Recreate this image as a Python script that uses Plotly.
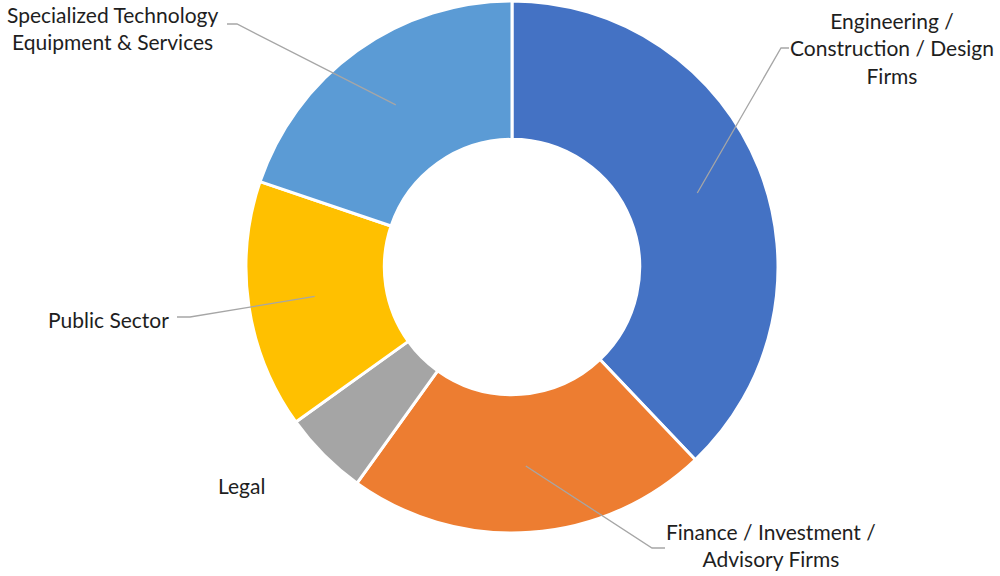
import math
import plotly.graph_objects as go

categories = ["Engineering / Construction / Design Firms",
              "Finance / Investment / Advisory Firms",
              "Legal",
              "Public Sector",
              "Specialized Technology Equipment & Services"]
label_texts = ["Engineering /<br>Construction / Design<br>Firms",
               "Finance / Investment /<br>Advisory Firms",
               "Legal",
               "Public Sector",
               "Specialized Technology<br>Equipment & Services"]
values = [37.9, 22.0, 5.2, 15.1, 19.8]
colors = ["#4472C4", "#ED7D31", "#A5A5A5", "#FFC000", "#5B9BD5"]

W, H = 1000, 576
CX, CY, R = 512, 267, 266
HOLE = 0.48

# label layout (pixel positions of text centres and leader-line ends)
label_pos = [(892, 48), (771, 545), (241, 485), (108, 319), (112, 28)]
leader_end = [(789, 48), (665, 548), None, (177, 317), (227, 24)]
leader_elbow = [(781, 48), (652, 548), None, (190, 317), (237, 24)]

fig = go.Figure()
fig.add_trace(go.Pie(
    labels=categories, values=values, sort=False, direction="clockwise",
    rotation=0, hole=HOLE, textinfo="none", hoverinfo="label+percent",
    marker=dict(colors=colors, line=dict(color="white", width=3)),
    domain=dict(x=[(CX - R) / W, (CX + R) / W],
                y=[1 - (CY + R) / H, 1 - (CY - R) / H]),
    showlegend=False,
))

total = sum(values)
cum = 0.0
for i, v in enumerate(values):
    mid = (cum + v / 2) / total * 2 * math.pi
    cum += v
    if leader_end[i] is None:
        continue
    rr = 0.75 * R
    ax = CX + rr * math.sin(mid)
    ay = CY - rr * math.cos(mid)
    ex, ey = leader_elbow[i]
    tx, ty = leader_end[i]
    fig.add_shape(type="path", xref="x", yref="y", layer="above",
                  path=f"M {ax:.1f},{ay:.1f} L {ex},{ey} L {tx},{ty}",
                  line=dict(color="#A6A6A6", width=1.3))

for (x, y), t in zip(label_pos, label_texts):
    fig.add_annotation(x=x, y=y, xref="x", yref="y", text=t, showarrow=False,
                       align="center", xanchor="center", yanchor="middle",
                       font=dict(family="Lato", size=21, color="#1e1e1e"))

fig.update_layout(
    width=W, height=H, autosize=False,
    margin=dict(l=0, r=0, t=0, b=0),
    paper_bgcolor="white", plot_bgcolor="rgba(0,0,0,0)",
    xaxis=dict(range=[0, W], visible=False, fixedrange=True),
    yaxis=dict(range=[H, 0], visible=False, fixedrange=True),
)
fig.write_html("out.html", config={"displayModeBar": False},
               post_script="document.body.style.margin='0';document.body.style.padding='0';")
